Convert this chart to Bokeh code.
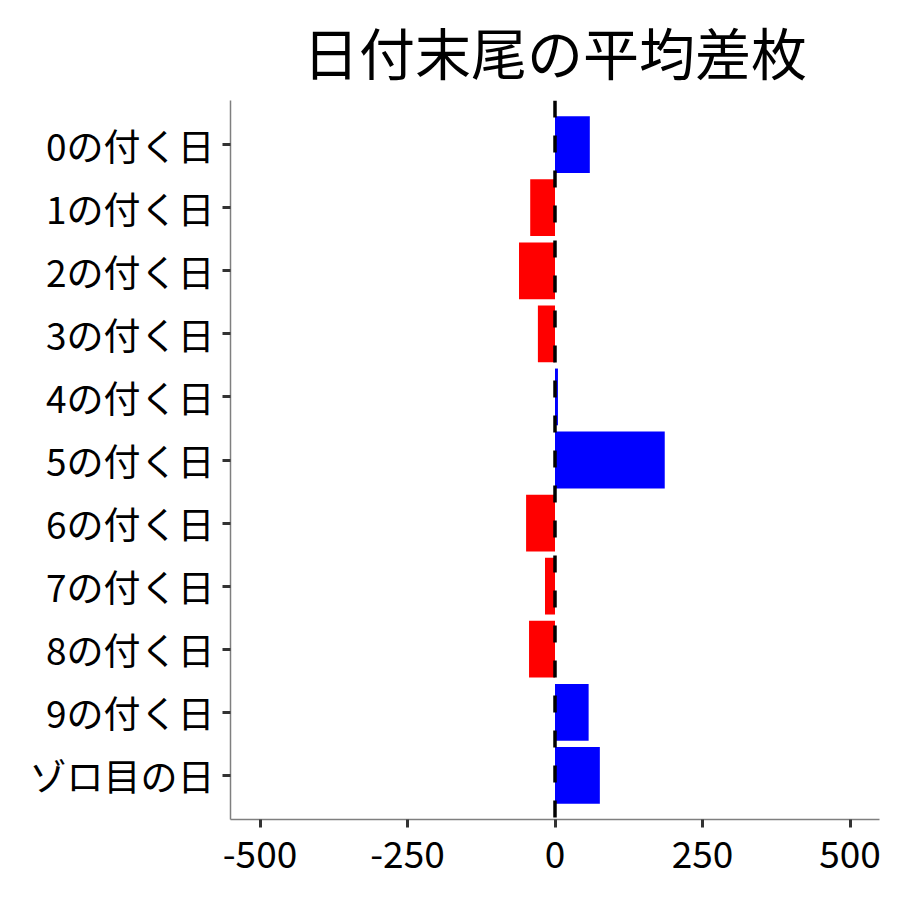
from bokeh.plotting import figure
from bokeh.models import FactorRange, Span, ColumnDataSource, FixedTicker
from bokeh.embed import file_html
from bokeh.resources import INLINE

categories = ["0の付く日", "1の付く日", "2の付く日", "3の付く日", "4の付く日",
              "5の付く日", "6の付く日", "7の付く日", "8の付く日", "9の付く日", "ゾロ目の日"]
values = [59, -42, -61, -29, 5, 186, -49, -17, -44, 57, 76]
x_ticks = [-500, -250, 0, 250, 500]
x_tick_labels = ["-500", "-250", "0", "250", "500"]
title_text = "日付末尾の平均差枚"

colors = ["#0000FF" if v >= 0 else "#FF0000" for v in values]
src = ColumnDataSource(dict(cat=categories, val=values, color=colors))

FONT = "Noto Sans CJK JP"

p = figure(width=884, height=884, output_backend="svg", toolbar_location=None,
           y_range=FactorRange(factors=list(reversed(categories)), range_padding=0.2,
                               range_padding_units="absolute"),
           x_range=(-550, 550),
           min_border_left=230, min_border_right=5, min_border_top=100, min_border_bottom=65)

p.hbar(y="cat", left=0, right="val", height=0.9, color="color", source=src, line_color=None)

p.add_layout(Span(location=0, dimension="height", line_color="black", line_width=3.5,
                  line_dash="17 18"))

p.title.text = title_text
p.title.align = "center"
p.title.offset = -6
p.title.vertical_align = "top"
p.title.text_font = FONT
p.title.text_font_size = "56px"
p.title.text_font_style = "normal"
p.title.text_color = "black"
p.title.standoff = 16

p.grid.visible = False
p.outline_line_color = None
p.background_fill_color = "white"
p.border_fill_color = "white"

p.xaxis.ticker = FixedTicker(ticks=x_ticks)
p.xaxis.major_label_overrides = dict(zip(x_ticks, x_tick_labels))
for ax in (p.xaxis[0], p.yaxis[0]):
    ax.axis_line_color = "#7f7f7f"
    ax.axis_line_width = 1.5
    ax.major_tick_line_color = "#333333"
    ax.major_tick_line_width = 3
    ax.major_tick_out = 8
    ax.major_tick_in = 0
    ax.minor_tick_line_color = None
    ax.major_label_text_font = FONT
    ax.major_label_text_font_size = "37px"
    ax.major_label_text_color = "black"
p.xaxis.major_label_standoff = 13
p.yaxis.major_label_standoff = 8

open("out.html", "w").write(file_html(p, INLINE))
